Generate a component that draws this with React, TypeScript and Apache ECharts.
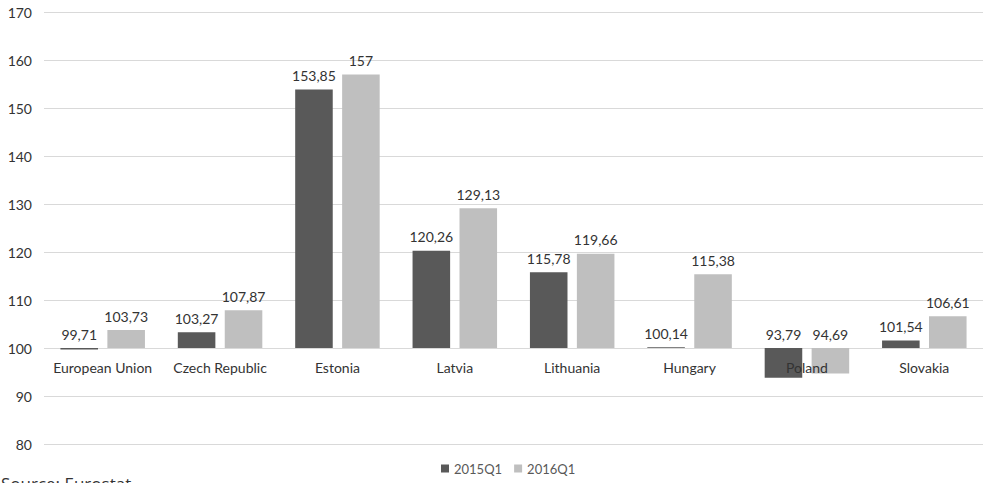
import React, { useEffect, useRef } from "react";
import * as echarts from "echarts";

const categories = [
  "European Union",
  "Czech Republic",
  "Estonia",
  "Latvia",
  "Lithuania",
  "Hungary",
  "Poland",
  "Slovakia",
];
const series2015 = [99.71, 103.27, 153.85, 120.26, 115.78, 100.14, 93.79, 101.54];
const series2016 = [103.73, 107.87, 157, 129.13, 119.66, 115.38, 94.69, 106.61];
const seriesNames = ["2015Q1", "2016Q1"];
const seriesColors = ["#595959", "#bfbfbf"];
const baseline = 100;

const FONT = "Lato, 'Open Sans', sans-serif";
const TEXT = "#333333";

function fmt(v: number): string {
  return String(v).replace(".", ",");
}

function makeRender(sign: number, color: string) {
  return (params: any, api: any) => {
    const cat = api.value(0);
    const v = api.value(1);
    const base = api.coord([cat, baseline]);
    const top = api.coord([cat, v]);
    const band = api.size([1, 0])[0];
    const bw = band * 0.32;
    const cx = base[0] + sign * band * 0.2;
    const y0 = Math.min(base[1], top[1]);
    const h = Math.abs(base[1] - top[1]);
    return {
      type: "group",
      children: [
        {
          type: "rect",
          shape: { x: cx - bw / 2, y: y0, width: bw, height: h },
          style: { fill: color },
        },
        {
          type: "text",
          z2: 5,
          style: {
            text: fmt(v),
            x: cx,
            y: y0 - 7,
            align: "center",
            verticalAlign: "bottom",
            fontSize: 14,
            fontFamily: FONT,
            fill: TEXT,
          },
        },
      ],
    };
  };
}

export default function App() {
  const ref = useRef<HTMLDivElement>(null);
  useEffect(() => {
    if (!ref.current) return;
    const chart = echarts.init(ref.current, undefined, { renderer: "svg" });
    const lists = [series2015, series2016];
    chart.setOption({
      animation: false,
      grid: { left: 44, right: 0, top: 12, bottom: 39, containLabel: false },
      legend: {
        left: 436,
        top: 457,
        icon: "rect",
        itemWidth: 8,
        itemHeight: 8,
        itemGap: 12,
        textStyle: { fontSize: 13, fontFamily: FONT, color: "#595959" },
        data: seriesNames,
      },
      xAxis: {
        type: "category",
        data: categories,
        offset: -96,
        z: 10,
        axisLine: { show: false },
        axisTick: { show: false },
        axisLabel: {
          interval: 0,
          margin: 12,
          fontSize: 14,
          fontFamily: FONT,
          color: TEXT,
        },
      },
      yAxis: {
        type: "value",
        min: 80,
        max: 170,
        interval: 10,
        axisLine: { show: false },
        axisTick: { show: false },
        axisLabel: { margin: 12, fontSize: 14, fontFamily: FONT, color: TEXT },
        splitLine: { lineStyle: { color: "#d9d9d9", width: 1 } },
      },
      graphic: [
        {
          type: "text",
          left: 1,
          top: 475,
          style: {
            text: "Source: Eurostat",
            fontSize: 17,
            fontFamily: "'Open Sans', sans-serif",
            fill: TEXT,
          },
        },
      ],
      series: lists.map((vals, si) => ({
        type: "custom",
        name: seriesNames[si],
        itemStyle: { color: seriesColors[si] },
        renderItem: makeRender(si === 0 ? -1 : 1, seriesColors[si]),
        encode: { x: 0, y: 1 },
        data: vals.map((v, i) => [i, v]),
      })),
    });
    return () => chart.dispose();
  }, []);
  return <div ref={ref} style={{ width: 983, height: 483, position: "absolute", left: 0, top: 0 }} />;
}
